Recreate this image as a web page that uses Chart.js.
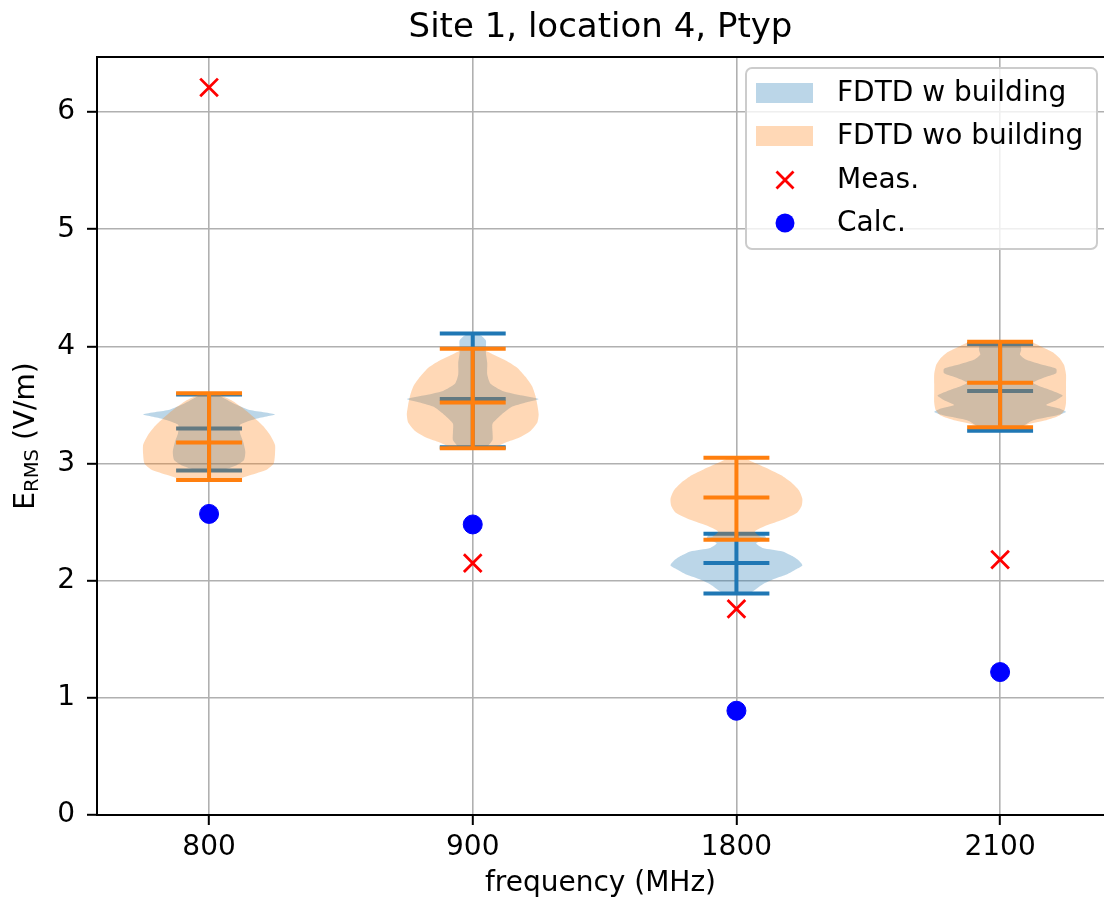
<!DOCTYPE html>
<html>
<head>
<meta charset="utf-8">
<title>Site 1, location 4, Ptyp</title>
<script src="https://cdn.jsdelivr.net/npm/chart.js@4.4.0/dist/chart.umd.min.js"></script>
<style>
  html, body { margin: 0; padding: 0; background: #fff; overflow: hidden; }
  #wrap { width: 1104px; height: 901px; position: relative; }
</style>
</head>
<body>
<div id="wrap"><canvas id="chartViolin"></canvas></div>
<script>
// categories / tick labels
const frequencies = ["800", "900", "1800", "2100"];
const positions = [1, 2, 3, 4];
const yTicks = [0, 1, 2, 3, 4, 5, 6];

// point series
const meas = [6.21, 2.15, 1.76, 2.18];
const calc = [2.57, 2.48, 0.89, 1.22];

// violin stats, with building
const wMin = [2.94, 3.14, 1.89, 3.28];
const wMed = [3.30, 3.55, 2.15, 3.62];
const wMax = [3.59, 4.11, 2.40, 4.02];
// violin stats, without building
const woMin = [2.86, 3.13, 2.35, 3.31];
const woMed = [3.18, 3.52, 2.71, 3.69];
const woMax = [3.60, 3.98, 3.05, 4.04];

// density profiles: [E value, relative width]
const wShape800 = [[2.94,0.2],[2.98,0.4],[3.03,0.53],[3.1,0.55],[3.18,0.52],[3.26,0.47],[3.33,0.47],[3.38,0.7],[3.42,1.0],[3.46,0.6],[3.51,0.38],[3.55,0.25],[3.59,0.12]];
const wShape900 = [[3.14,0.22],[3.2,0.3],[3.27,0.3],[3.34,0.3],[3.41,0.42],[3.48,0.58],[3.52,0.8],[3.55,1.0],[3.58,0.75],[3.62,0.45],[3.68,0.27],[3.76,0.22],[3.86,0.22],[3.94,0.2],[4.0,0.2],[4.05,0.2],[4.09,0.13],[4.11,0.05]];
const wShape1800 = [[1.89,0.2],[1.93,0.3],[1.97,0.4],[2.01,0.55],[2.05,0.75],[2.09,0.88],[2.13,1.0],[2.17,0.95],[2.21,0.85],[2.25,0.7],[2.28,0.4],[2.32,0.3],[2.36,0.45],[2.4,0.4]];
const wShape2100 = [[3.28,0.25],[3.32,0.35],[3.37,0.5],[3.41,0.85],[3.44,1.0],[3.47,0.9],[3.5,0.7],[3.54,0.85],[3.58,0.95],[3.62,0.8],[3.66,0.6],[3.69,0.5],[3.73,0.65],[3.77,0.85],[3.81,0.85],[3.85,0.6],[3.89,0.38],[3.93,0.3],[3.97,0.32],[4.02,0.3]];

const woShape800 = [[2.85,0.35],[2.9,0.62],[2.95,0.88],[3.0,0.98],[3.08,1.0],[3.16,1.0],[3.24,0.93],[3.32,0.82],[3.4,0.67],[3.47,0.52],[3.53,0.37],[3.57,0.23],[3.6,0.1]];
const woShape900 = [[3.13,0.3],[3.18,0.5],[3.22,0.7],[3.28,0.88],[3.35,0.98],[3.42,1.0],[3.5,0.98],[3.58,0.95],[3.66,0.9],[3.74,0.8],[3.82,0.67],[3.88,0.5],[3.94,0.28],[3.98,0.12]];
const woShape1800 = [[2.35,0.5],[2.38,0.35],[2.42,0.28],[2.47,0.45],[2.52,0.7],[2.58,0.92],[2.64,0.99],[2.7,1.0],[2.77,0.95],[2.84,0.83],[2.9,0.68],[2.95,0.5],[3.0,0.3],[3.05,0.1]];
const woShape2100 = [[3.31,0.3],[3.34,0.45],[3.37,0.7],[3.41,0.9],[3.46,0.98],[3.52,1.0],[3.6,1.0],[3.68,1.0],[3.76,1.0],[3.84,0.97],[3.9,0.9],[3.95,0.8],[4.0,0.62],[4.04,0.45]];

const legendLabels = ["FDTD w building", "FDTD wo building", "Meas.", "Calc."];

const FONT = "'DejaVu Sans', sans-serif";
const BLUE = "#1f77b4", ORANGE = "#ff7f0e";
const BLUE_FILL = "rgba(31,119,180,0.3)", ORANGE_FILL = "rgba(255,127,14,0.3)";

// violin outline: right side up, left side down
function violinPoly(pos, shape) {
  const right = shape.map(([y, w]) => ({ x: pos + 0.25 * w, y: y }));
  const left = shape.slice().reverse().map(([y, w]) => ({ x: pos - 0.25 * w, y: y }));
  return right.concat(left);
}

// caps, median and vertical bar, gaps between pieces
function violinLines(mins, meds, maxs) {
  const pts = [];
  positions.forEach((p, i) => {
    [mins[i], meds[i], maxs[i]].forEach(v => {
      pts.push({ x: p - 0.125, y: v }, { x: p + 0.125, y: v }, { x: p, y: null });
    });
    pts.push({ x: p, y: mins[i] }, { x: p, y: maxs[i] }, { x: p, y: null });
  });
  return pts;
}

function bodyDataset(pos, shape, fill, order) {
  return {
    type: "scatter", data: violinPoly(pos, shape), showLine: true,
    fill: "shape", backgroundColor: fill, borderWidth: 0,
    pointRadius: 0, tension: 0.2, order: order
  };
}

const wShapes = [wShape800, wShape900, wShape1800, wShape2100];
const woShapes = [woShape800, woShape900, woShape1800, woShape2100];

const datasets = [];
positions.forEach((p, i) => datasets.push(bodyDataset(p, wShapes[i], BLUE_FILL, 5)));
datasets.push({
  type: "scatter", data: violinLines(wMin, wMed, wMax), showLine: true,
  borderColor: BLUE, borderWidth: 4, pointRadius: 0, order: 4
});
positions.forEach((p, i) => datasets.push(bodyDataset(p, woShapes[i], ORANGE_FILL, 3)));
datasets.push({
  type: "scatter", data: violinLines(woMin, woMed, woMax), showLine: true,
  borderColor: ORANGE, borderWidth: 4, pointRadius: 0, order: 2
});
datasets.push({
  label: legendLabels[2], type: "scatter",
  data: positions.map((p, i) => ({ x: p, y: meas[i] })),
  pointStyle: "crossRot", pointRadius: 12.5, borderColor: "#ff0000", borderWidth: 2.8, order: 1
});
datasets.push({
  label: legendLabels[3], type: "scatter",
  data: positions.map((p, i) => ({ x: p, y: calc[i] })),
  pointStyle: "circle", pointRadius: 9.5, backgroundColor: "#0000ff", borderColor: "#0000ff", borderWidth: 1, order: 0
});

// spine on top + E_RMS label + matplotlib style legend
const extras = {
  id: "extras",
  afterDraw(chart) {
    const ctx = chart.ctx, a = chart.chartArea;
    ctx.save();
    ctx.strokeStyle = "#000"; ctx.lineWidth = 2;
    ctx.beginPath(); ctx.moveTo(a.left, a.top); ctx.lineTo(a.right, a.top); ctx.stroke();

    // y label with subscript
    const big = 28, small = 19.6;
    ctx.font = big + "px " + FONT;
    const wE = ctx.measureText("E").width, wRest = ctx.measureText(" (V/m)").width;
    ctx.font = small + "px " + FONT;
    const wSub = ctx.measureText("RMS").width;
    const total = wE + wSub + wRest;
    ctx.translate(34, (a.top + a.bottom) / 2);
    ctx.rotate(-Math.PI / 2);
    ctx.fillStyle = "#000"; ctx.textBaseline = "alphabetic"; ctx.textAlign = "left";
    let x0 = -total / 2;
    ctx.font = big + "px " + FONT; ctx.fillText("E", x0, 0); x0 += wE;
    ctx.font = small + "px " + FONT; ctx.fillText("RMS", x0, 4); x0 += wSub;
    ctx.font = big + "px " + FONT; ctx.fillText(" (V/m)", x0, 0);
    ctx.restore();

    // legend
    ctx.save();
    const lx = 746, ly = a.top + 11, lw = 351, lh = 181;
    ctx.beginPath();
    ctx.roundRect(lx, ly, lw, lh, 6);
    ctx.fillStyle = "rgba(255,255,255,0.8)"; ctx.fill();
    ctx.strokeStyle = "#cccccc"; ctx.lineWidth = 2; ctx.stroke();
    const rows = [ly + 25, ly + 68, ly + 112, ly + 155];
    ctx.fillStyle = BLUE_FILL; ctx.fillRect(lx + 10, rows[0] - 10, 57, 20);
    ctx.fillStyle = ORANGE_FILL; ctx.fillRect(lx + 10, rows[1] - 10, 57, 20);
    const mx = lx + 39;
    ctx.strokeStyle = "#ff0000"; ctx.lineWidth = 2.8;
    ctx.beginPath();
    ctx.moveTo(mx - 8.5, rows[2] - 8.5); ctx.lineTo(mx + 8.5, rows[2] + 8.5);
    ctx.moveTo(mx - 8.5, rows[2] + 8.5); ctx.lineTo(mx + 8.5, rows[2] - 8.5);
    ctx.stroke();
    ctx.fillStyle = "#0000ff";
    ctx.beginPath(); ctx.arc(mx, rows[3], 9.5, 0, Math.PI * 2); ctx.fill();
    ctx.fillStyle = "#000"; ctx.font = "28px " + FONT; ctx.textBaseline = "middle";
    legendLabels.forEach((t, i) => ctx.fillText(t, lx + 91, rows[i] + 1));
    ctx.restore();
  }
};

new Chart(document.getElementById("chartViolin"), {
  data: { datasets: datasets },
  options: {
    responsive: true, maintainAspectRatio: false, animation: false,
    layout: { padding: 0, autoPadding: false },
    plugins: {
      legend: { display: false },
      tooltip: { enabled: false },
      title: {
        display: true, text: "Site 1, location 4, Ptyp", fullSize: false,
        color: "#000", font: { family: FONT, size: 34, weight: "normal" },
        padding: { top: 8, bottom: 8.2 }
      }
    },
    scales: {
      x: {
        type: "linear", min: 0.575, max: 4.394,
        afterBuildTicks: s => { s.ticks = positions.map(v => ({ value: v })); },
        afterFit: s => { s.height = 86; s.paddingLeft = 0; s.paddingRight = 0; },
        ticks: { color: "#000", font: { family: FONT, size: 28 }, padding: 6,
                 callback: v => frequencies[Math.round(v) - 1] },
        grid: { color: "#b0b0b0", lineWidth: 1.6, tickColor: "#000", tickWidth: 2, tickLength: 10 },
        border: { display: true, color: "#000", width: 2 },
        title: { display: true, text: "frequency (MHz)", color: "#000",
                 font: { family: FONT, size: 28 }, padding: { top: 0, bottom: 0 } }
      },
      y: {
        type: "linear", min: 0, max: 6.47,
        afterBuildTicks: s => { s.ticks = yTicks.map(v => ({ value: v })); },
        afterFit: s => { s.width = 97; s.paddingTop = 0; s.paddingBottom = 0; },
        ticks: { color: "#000", font: { family: FONT, size: 28 }, padding: 12 },
        grid: { color: "#b0b0b0", lineWidth: 1.6, tickColor: "#000", tickWidth: 2, tickLength: 10 },
        border: { display: true, color: "#000", width: 2 }
      }
    }
  },
  plugins: [extras]
});
</script>
</body>
</html>
